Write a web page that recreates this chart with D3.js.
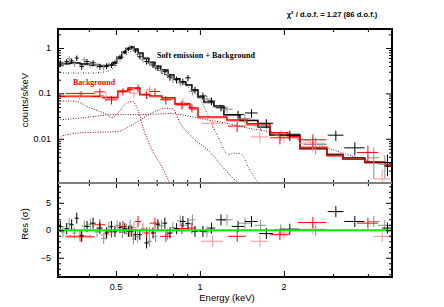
<!DOCTYPE html>
<html>
<head>
<meta charset="utf-8">
<script src="https://cdn.jsdelivr.net/npm/d3@7"></script>
<style>
body { margin: 0; background: #fff; }
text { font-family: "Liberation Sans", Arial, sans-serif; }
.serif { font-family: "Liberation Serif", "Times New Roman", serif; font-weight: bold; }
</style>
</head>
<body>
<div id="chart"></div>
<script>
// ---- data ----
// source spectrum, first detector (black)
let blackE   = [0.316,0.333,0.347,0.362,0.377,0.394,0.414,0.438,0.463,0.482,0.496,0.517,0.538,0.554,0.570,0.587,0.609,0.644,0.679,0.707,0.749,0.781,0.825,0.869,0.906,0.960,1.025,1.10,1.19,1.37,1.53,1.73,2.10,3.07,3.59,4.70];
let blackDE  = [0.006,0.006,0.006,0.006,0.007,0.008,0.009,0.010,0.008,0.007,0.007,0.008,0.008,0.007,0.007,0.008,0.010,0.012,0.012,0.013,0.015,0.016,0.018,0.02,0.02,0.025,0.03,0.035,0.05,0.07,0.08,0.1,0.17,0.2,0.3,0.2];
let blackVal = [0.47,0.50,0.52,0.60,0.39,0.50,0.47,0.39,0.40,0.42,0.46,0.63,0.82,0.95,1.02,0.86,0.64,0.50,0.42,0.36,0.30,0.23,0.20,0.18,0.22,0.12,0.088,0.068,0.048,0.034,0.037,0.022,0.012,0.012,0.0063,0.003];
let blackErr = [0.07,0.07,0.07,0.08,0.06,0.07,0.07,0.06,0.06,0.06,0.06,0.08,0.09,0.1,0.1,0.09,0.08,0.07,0.06,0.05,0.045,0.04,0.035,0.03,0.035,0.02,0.016,0.013,0.008,0.007,0.008,0.005,0.003,0.003,0.002,0.0015];
let blackRes = [0.7,0.3,1.0,2.2,-1.0,0.7,1.3,0.4,-0.5,0.7,-0.2,0.5,0.3,-0.2,-0.2,-0.8,-0.8,-2.3,-0.5,1.0,1.3,-0.5,0.3,1.6,1.2,-0.2,-0.2,0.4,1.9,0.7,1.6,-0.6,0.2,3.4,1.6,0.4];

// source spectrum, second detector (grey)
let grayE   = [0.323,0.340,0.355,0.385,0.405,0.428,0.452,0.472,0.505,0.528,0.546,0.562,0.578,0.598,0.625,0.660,0.693,0.728,0.765,0.80,0.85,0.94,1.06,1.25,1.45,1.65,1.95,2.6,4.2,4.6];
let grayDE  = [0.006,0.006,0.006,0.008,0.008,0.009,0.009,0.008,0.008,0.007,0.007,0.007,0.007,0.009,0.01,0.012,0.012,0.014,0.015,0.017,0.02,0.025,0.04,0.06,0.07,0.08,0.1,0.25,0.2,0.25];
let grayVal = [0.44,0.58,0.45,0.55,0.44,0.41,0.38,0.43,0.55,0.75,0.92,1.05,0.95,0.72,0.55,0.46,0.38,0.32,0.26,0.21,0.17,0.11,0.075,0.045,0.028,0.019,0.012,0.0075,0.0038,0.0028];
let grayErr = [0.07,0.08,0.07,0.08,0.07,0.06,0.06,0.06,0.08,0.09,0.1,0.11,0.1,0.09,0.08,0.07,0.06,0.05,0.045,0.04,0.03,0.02,0.013,0.008,0.006,0.004,0.003,0.003,0.0025,0.0015];
let grayRes = [-0.3,1.2,-0.5,0.8,1.1,-0.3,-1.5,0.6,0.9,-0.4,0.2,0.9,-1.6,-1.2,0.3,-2.0,-1.1,0.8,-0.7,0.5,1.7,1.9,-0.3,1.9,1.3,0.9,0.1,0.0,1.6,0.9];

// background spectrum, first detector (red)
let redE   = [0.375,0.438,0.482,0.53,0.561,0.60,0.644,0.69,0.755,0.862,0.936,1.36,1.935,2.54,4.0];
let redDE  = [0.045,0.02,0.025,0.015,0.012,0.015,0.015,0.03,0.035,0.045,0.03,0.1,0.15,0.3,0.35];
let redVal = [0.10,0.108,0.072,0.11,0.12,0.13,0.093,0.11,0.072,0.056,0.048,0.019,0.0105,0.0095,0.005];
let redErr = [0.012,0.02,0.015,0.02,0.02,0.025,0.018,0.02,0.015,0.012,0.01,0.005,0.003,0.003,0.002];
let redRes = [-1.2,1.0,-0.3,0.7,-0.2,1.6,-0.5,1.3,-1.1,0.3,0.4,-1.1,-0.8,1.4,1.3];

// background spectrum, second detector (pink)
let pinkE   = [0.37,0.46,0.58,0.66,0.87,1.11,1.64,2.0,2.54,4.5];
let pinkDE  = [0.04,0.02,0.015,0.02,0.03,0.1,0.12,0.1,0.28,0.3];
let pinkVal = [0.088,0.085,0.10,0.12,0.062,0.022,0.011,0.011,0.008,0.0013];
let pinkErr = [0.015,0.02,0.02,0.025,0.015,0.005,0.003,0.003,0.003,0.0008];
let pinkRes = [-1.0,-0.8,0.5,-0.3,0.9,-2.0,-2.0,-0.5,0.2,-1.1];

// folded models (step lines): bin edges and values
let srcEdges  = [0.31,0.323,0.342,0.372,0.403,0.438,0.468,0.488,0.504,0.525,0.543,0.561,0.580,0.600,0.625,0.656,0.690,0.725,0.768,0.807,0.848,0.891,0.936,0.984,1.033,1.122,1.219,1.391,1.614,1.782,2.282,2.852,3.255,3.903,4.604,4.877];
let srcModel  = [0.42,0.445,0.47,0.445,0.42,0.40,0.42,0.47,0.60,0.78,0.95,1.05,0.95,0.78,0.60,0.49,0.40,0.33,0.255,0.21,0.18,0.154,0.12,0.084,0.065,0.053,0.034,0.025,0.018,0.012,0.006,0.0044,0.0038,0.003,0.0025];
let srcModel2 = [0.44,0.46,0.46,0.43,0.41,0.41,0.43,0.50,0.64,0.82,0.98,1.02,0.90,0.74,0.57,0.47,0.39,0.32,0.25,0.205,0.175,0.15,0.115,0.08,0.062,0.05,0.033,0.026,0.019,0.0125,0.0063,0.0046,0.0036,0.0031,0.0026];
let bkgEdges  = [0.31,0.449,0.508,0.552,0.609,0.662,0.731,0.814,0.921,0.984,1.25,1.474,1.782,2.067,2.282,2.852,3.255,3.903,4.604,4.877];
let bkgModel  = [0.085,0.080,0.1135,0.132,0.093,0.088,0.080,0.059,0.048,0.0305,0.026,0.0214,0.0136,0.0112,0.0063,0.0042,0.0035,0.0031,0.0027];
let bkgModel2 = [0.09,0.083,0.107,0.125,0.097,0.085,0.075,0.056,0.045,0.029,0.025,0.020,0.013,0.0105,0.0066,0.0045,0.0036,0.0030,0.0026];

// model components (dotted)
let softE   = [0.31,0.40,0.46,0.50,0.53,0.56,0.58,0.61,0.66,0.72,0.80,0.88,0.93,1.0,1.09,1.18,1.26,1.32,1.40,1.50,1.62];
let softVal = [0.28,0.28,0.30,0.40,0.60,0.82,0.88,0.75,0.45,0.30,0.21,0.16,0.12,0.075,0.025,0.009,0.0045,0.0048,0.0047,0.0022,0.00105];
let lineAE   = [0.31,0.357,0.397,0.464,0.484,0.508,0.547,0.571,0.60,0.625,0.673,0.731,0.78];
let lineAVal = [0.068,0.067,0.05,0.034,0.029,0.037,0.062,0.066,0.043,0.018,0.0057,0.0024,0.00106];
let plawE   = [0.31,0.36,0.42,0.48,0.55,0.61,0.7,0.78,0.9,1.0,1.2,1.5,2.07,2.5,3.0,3.5,4.0,4.88];
let plawVal = [0.026,0.028,0.031,0.034,0.034,0.034,0.035,0.036,0.032,0.028,0.023,0.017,0.012,0.0085,0.0057,0.0042,0.0033,0.0024];
let lineCE   = [0.31,0.37,0.44,0.51,0.56,0.60,0.65,0.71,0.76,0.80,0.85,0.95,1.09,1.22,1.37];
let lineCVal = [0.011,0.0135,0.014,0.0145,0.019,0.024,0.033,0.043,0.047,0.045,0.022,0.01,0.005,0.0022,0.00106];

// axis ticks
let xMajor = [0.5, 1, 2];
let xMinor = [0.4, 0.6, 0.7, 0.8, 0.9, 3, 4];
let yMajor = [0.01, 0.1, 1];
let resMajor = [-5, 0, 5];

// ---- layout ----
let W = 444, H = 307;
let pL = 58, pR = 392, pT = 29, pM = 183, pB = 277;

let svg = d3.select('#chart').append('svg')
    .attr('width', W)
    .attr('height', H);

let x = d3.scaleLog().domain([0.31, 4.88]).range([pL, pR]);
let y = d3.scaleLog().domain([0.00106, 2.62]).range([pM, pT]);
let yr = d3.scaleLinear().domain([-8.5, 8.6]).range([pB, pM]);

svg.append('clipPath').attr('id', 'clipTop')
    .append('rect').attr('x', pL).attr('y', pT).attr('width', pR - pL).attr('height', pM - pT);
svg.append('clipPath').attr('id', 'clipBot')
    .append('rect').attr('x', pL).attr('y', pM).attr('width', pR - pL).attr('height', pB - pM);

let gTop = svg.append('g').attr('clip-path', 'url(#clipTop)');
let gBot = svg.append('g').attr('clip-path', 'url(#clipBot)');

function zip(e, v) {
    return e.map(function(d, i) { return [d, v[i]]; });
}

// dotted components, drawn twice (two colours of dots interleaved)
let curve = d3.line()
    .x(function(d) { return x(d[0]); })
    .y(function(d) { return y(d[1]); })
    .curve(d3.curveMonotoneX);

function dotted(pts, c1, c2) {
    gTop.append('path').attr('d', curve(pts)).attr('fill', 'none')
        .attr('stroke', c1).attr('stroke-width', 1).attr('stroke-dasharray', '1,4');
    gTop.append('path').attr('d', curve(pts)).attr('fill', 'none')
        .attr('stroke', c2).attr('stroke-width', 1).attr('stroke-dasharray', '1,4').attr('stroke-dashoffset', 2.5);
}
dotted(zip(softE, softVal), '#222', '#888');
dotted(zip(lineAE, lineAVal), '#222', '#e00');
dotted(zip(plawE, plawVal), '#222', '#e00');
dotted(zip(lineCE, lineCVal), '#222', '#e00');

// step models
function steps(edges, vals) {
    let pts = [];
    vals.forEach(function(v, i) {
        pts.push([edges[i], v]);
        pts.push([edges[i + 1], v]);
    });
    return pts;
}
let stepLine = d3.line()
    .x(function(d) { return x(d[0]); })
    .y(function(d) { return y(d[1]); });

function drawSteps(edges, vals, color, w) {
    gTop.append('path').attr('d', stepLine(steps(edges, vals)))
        .attr('fill', 'none').attr('stroke', color).attr('stroke-width', w);
}
drawSteps(srcEdges, srcModel2, '#8c8c8c', 1.6);
drawSteps(bkgEdges, bkgModel2, '#ff8080', 1.6);
drawSteps(srcEdges, srcModel, '#000', 1.3);
drawSteps(bkgEdges, bkgModel, '#f00', 1.3);

// data crosses, spectrum and residuals
function crosses(E, dE, V, err, R, color) {
    let data = E.map(function(e, i) { return {e: e, de: dE[i], v: V[i], err: err[i], r: R[i]}; });
    let g = gTop.append('g').attr('stroke', color).attr('stroke-width', 1);
    g.selectAll('.h').data(data).enter().append('line')
        .attr('x1', function(d) { return x(d.e - d.de); })
        .attr('x2', function(d) { return x(d.e + d.de); })
        .attr('y1', function(d) { return y(d.v); })
        .attr('y2', function(d) { return y(d.v); });
    g.selectAll('.v').data(data).enter().append('line')
        .attr('x1', function(d) { return x(d.e); })
        .attr('x2', function(d) { return x(d.e); })
        .attr('y1', function(d) { return y(Math.max(d.v - d.err, 0.0005)); })
        .attr('y2', function(d) { return y(d.v + d.err); });

    let gr = gBot.append('g').attr('stroke', color).attr('stroke-width', 1);
    gr.selectAll('.h').data(data).enter().append('line')
        .attr('x1', function(d) { return x(d.e - d.de); })
        .attr('x2', function(d) { return x(d.e + d.de); })
        .attr('y1', function(d) { return yr(d.r); })
        .attr('y2', function(d) { return yr(d.r); });
    gr.selectAll('.v').data(data).enter().append('line')
        .attr('x1', function(d) { return x(d.e); })
        .attr('x2', function(d) { return x(d.e); })
        .attr('y1', function(d) { return yr(d.r - 1); })
        .attr('y2', function(d) { return yr(d.r + 1); });
}
crosses(grayE, grayDE, grayVal, grayErr, grayRes, '#8c8c8c');
crosses(pinkE, pinkDE, pinkVal, pinkErr, pinkRes, '#ff9090');
crosses(redE, redDE, redVal, redErr, redRes, '#f00');
crosses(blackE, blackDE, blackVal, blackErr, blackRes, '#000');

// zero line of residuals
gBot.append('line')
    .attr('x1', pL).attr('x2', pR)
    .attr('y1', yr(0)).attr('y2', yr(0))
    .attr('stroke', '#00ee00').attr('stroke-width', 2);

// ---- axes ----
function noDomain(g) { g.select('.domain').remove(); }

let yMinor = [];
[0.001, 0.01, 0.1, 1].forEach(function(d) {
    for (let k = 2; k <= 9; k++) { if (d * k < 2.62 && d * k > 0.00106) yMinor.push(d * k); }
});

// x ticks on the horizontal edges
function xTicks(pos, orient, size, vals) {
    let ax = orient(x).tickValues(vals).tickSize(size).tickFormat('');
    svg.append('g').attr('transform', 'translate(0,' + pos + ')').call(ax).call(noDomain)
        .call(function(g) { g.selectAll('.tick line').attr('stroke', '#000').attr('stroke-width', 1); });
}
xTicks(pT, d3.axisTop, -6, xMajor);
xTicks(pT, d3.axisTop, -3, xMinor);
xTicks(pM, d3.axisTop, 5, xMajor);
xTicks(pM, d3.axisTop, 3, xMinor);
xTicks(pM, d3.axisBottom, 5, xMajor);
xTicks(pM, d3.axisBottom, 3, xMinor);
xTicks(pB, d3.axisBottom, -6, xMajor);
xTicks(pB, d3.axisBottom, -3, xMinor);

// x labels
svg.append('g').selectAll('text').data(xMajor).enter().append('text')
    .attr('x', function(d) { return x(d); })
    .attr('y', 290)
    .attr('text-anchor', 'middle')
    .attr('font-size', 9)
    .text(function(d) { return d; });

// y ticks
function yTicks(scale, pos, orient, size, vals) {
    svg.append('g').attr('transform', 'translate(' + pos + ',0)')
        .call(orient(scale).tickValues(vals).tickSize(size).tickFormat(''))
        .call(noDomain)
        .call(function(g) { g.selectAll('.tick line').attr('stroke', '#000').attr('stroke-width', 1); });
}
yTicks(y, pL, d3.axisLeft, -6, yMajor);
yTicks(y, pL, d3.axisLeft, -3, yMinor);
yTicks(y, pR, d3.axisRight, -6, yMajor);
yTicks(y, pR, d3.axisRight, -3, yMinor);

let resMinor = d3.range(-8, 9).filter(function(d) { return d % 5 !== 0; });
yTicks(yr, pL, d3.axisLeft, -6, resMajor);
yTicks(yr, pL, d3.axisLeft, -3, resMinor);
yTicks(yr, pR, d3.axisRight, -6, resMajor);
yTicks(yr, pR, d3.axisRight, -3, resMinor);

svg.append('g').selectAll('text').data(yMajor).enter().append('text')
    .attr('x', 51)
    .attr('y', function(d) { return y(d) + 3; })
    .attr('text-anchor', 'end')
    .attr('font-size', 9)
    .text(function(d) { return d; });

svg.append('g').selectAll('text').data(resMajor).enter().append('text')
    .attr('x', 51)
    .attr('y', function(d) { return yr(d) + 3; })
    .attr('text-anchor', 'end')
    .attr('font-size', 9)
    .text(function(d) { return d === -5 ? '\u22125' : d; });

// frames
svg.append('rect').attr('x', pL).attr('y', pT).attr('width', pR - pL).attr('height', pB - pT)
    .attr('fill', 'none').attr('stroke', '#000').attr('stroke-width', 2);
svg.append('line').attr('x1', pL).attr('x2', pR).attr('y1', pM).attr('y2', pM)
    .attr('stroke', '#808080').attr('stroke-width', 2);

// axis titles
svg.append('text')
    .attr('transform', 'translate(28,100) rotate(-90)')
    .attr('text-anchor', 'middle')
    .attr('font-size', 9.5)
    .text('counts/s/keV');
svg.append('text')
    .attr('transform', 'translate(28,224) rotate(-90)')
    .attr('text-anchor', 'middle')
    .attr('font-size', 9.5)
    .text('Res (\u03c3)');
svg.append('text')
    .attr('x', 227).attr('y', 301)
    .attr('text-anchor', 'middle')
    .attr('font-size', 9.5)
    .text('Energy (keV)');

// annotations
svg.append('text')
    .attr('x', 332).attr('y', 17)
    .attr('text-anchor', 'middle')
    .attr('font-size', 7.6)
    .attr('font-weight', 'bold')
    .text('\u03c7\u00b2 / d.o.f. = 1.27 (86 d.o.f.)');
svg.append('text').attr('class', 'serif')
    .attr('x', 157).attr('y', 58)
    .attr('font-size', 8)
    .attr('textLength', 98)
    .text('Soft emission + Background');
svg.append('text').attr('class', 'serif')
    .attr('x', 73).attr('y', 85)
    .attr('font-size', 8)
    .attr('fill', '#f00')
    .text('Background');
</script>
</body>
</html>
